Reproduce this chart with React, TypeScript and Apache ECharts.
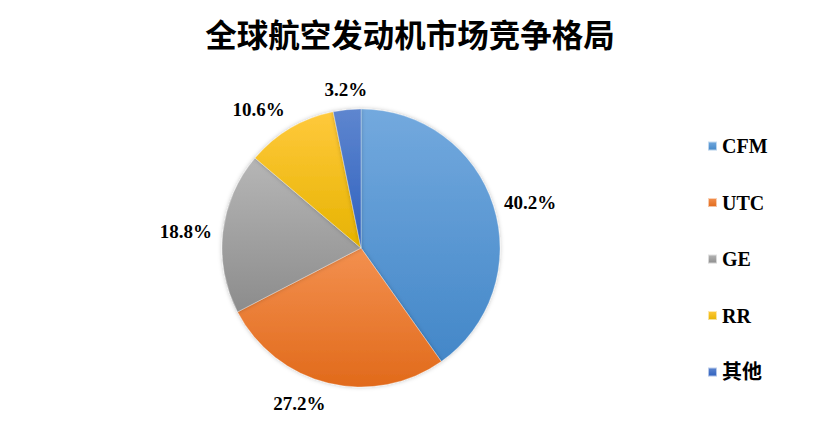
import { useEffect, useRef } from "react";
import * as echarts from "echarts";

const names = ["CFM", "UTC", "GE", "RR", "其他"];
const shares = [40.2, 27.2, 18.8, 10.6, 3.2];
const topColors = ["#73a9de", "#f3904f", "#b6b6b6", "#ffc93c", "#5e86cf"];
const bottomColors = ["#4387c8", "#e16a1b", "#8c8c8c", "#e6b300", "#2e60be"];

const CX = 361;
const CY = 248;
const R = 139;
const LABEL_PAD = 11;

const serif = '"Liberation Serif", "Times New Roman", "Noto Sans CJK SC", serif';

export default function App() {
  const ref = useRef<HTMLDivElement>(null);

  useEffect(() => {
    const el = ref.current;
    if (!el) return;
    const chart = echarts.init(el, undefined, { renderer: "svg" });
    const total = shares.reduce((a, b) => a + b, 0);
    const starts: number[] = [];
    shares.reduce((acc, v) => {
      starts.push(acc);
      return acc + v;
    }, 0);

    chart.setOption({
      animation: false,
      backgroundColor: "#ffffff",
      title: {
        text: "全球航空发动机市场竞争格局",
        left: 405,
        top: 12,
        textAlign: "center",
        textStyle: {
          fontFamily: '"Noto Sans CJK SC", sans-serif',
          fontWeight: "bold",
          fontSize: 31.5,
          color: "#000",
        },
      },
      legend: {
        orient: "vertical",
        left: 702,
        top: 131,
        itemWidth: 9,
        itemHeight: 9,
        itemGap: 36.5,
        icon: "rect",
        textStyle: {
          fontFamily: serif,
          fontWeight: "bold",
          fontSize: 20,
          lineHeight: 20,
          color: "#000",
        },
        data: names,
      },
      series: [
        {
          type: "pie",
          center: [CX, CY],
          radius: R,
          startAngle: 90,
          clockwise: true,
          label: {
            show: true,
            position: "outside",
            formatter: (p: any) => p.value.toFixed(1) + "%",
            fontFamily: serif,
            fontWeight: "bold",
            fontSize: 19,
            color: "#000",
          },
          labelLine: { show: false },
          // anchor just outside the rim at the slice's mid-angle, box aligned by side
          labelLayout: (p: any) => {
            const i = p.dataIndex;
            const mid = ((starts[i] + shares[i] / 2) / total) * Math.PI * 2;
            const dx = Math.sin(mid);
            const dy = -Math.cos(mid);
            const d = R + LABEL_PAD;
            return {
              x: CX + d * dx,
              y: CY + d * dy,
              align: dx < -0.2 ? "right" : dx > 0.2 ? "left" : "center",
              verticalAlign: dy > 0.5 ? "top" : dy < -0.5 ? "bottom" : "middle",
            };
          },
          emphasis: { disabled: true },
          itemStyle: {
            borderColor: "rgba(255,255,255,0.6)",
            borderWidth: 0.5,
            shadowBlur: 4,
            shadowColor: "rgba(0,0,0,0.25)",
          },
          data: names.map((n, i) => ({
            name: n,
            value: shares[i],
            itemStyle: {
              color: new echarts.graphic.LinearGradient(0, 0, 0, 1, [
                { offset: 0, color: topColors[i] },
                { offset: 1, color: bottomColors[i] },
              ]),
            },
          })),
        },
      ],
    });
    return () => {
      chart.dispose();
    };
  }, []);

  return (
    <div
      ref={ref}
      style={{ position: "fixed", left: 0, top: 0, width: 815, height: 432 }}
    />
  );
}
